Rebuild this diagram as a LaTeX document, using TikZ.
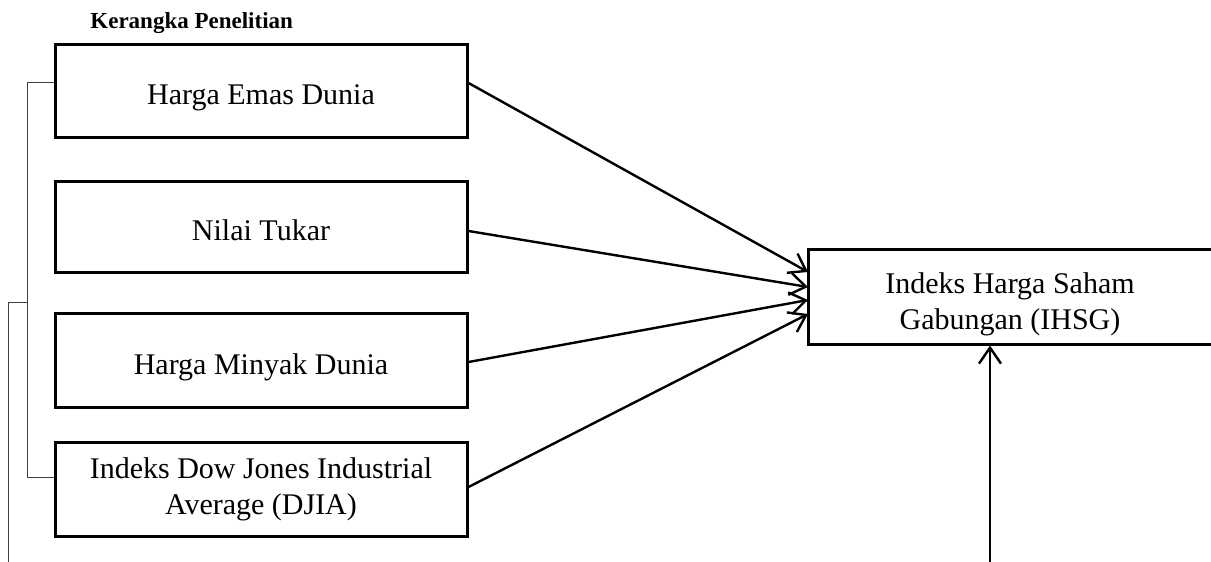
\documentclass[tikz,border=0pt]{standalone}
\usepackage{fontspec}
\setmainfont{Liberation Serif}
\usetikzlibrary{arrows.meta}

\begin{document}
\begin{tikzpicture}[x=0.5pt, y=-0.5pt,
        kotak/.style={draw, line width=1.5pt, inner sep=0pt, align=center,
            minimum width=206pt, font=\fontsize{15}{18}\selectfont},
        satu/.style={text height=17.5pt, text depth=3.5pt},
        panah/.style={line width=1.2pt, -{Straight Barb[length=8pt,width=11pt]}},
        kurung/.style={line width=0.5pt, black!75}]
        \useasboundingbox (0,0) rectangle (1211,562);
        \node [anchor=base west, inner sep=0pt, font=\fontsize{11.5}{13}\selectfont\bfseries] (judul) at (90,28) {Kerangka Penelitian};
        % variabel bebas
        \node [kotak, satu, minimum height=46.5pt] (emas) at (261,90.5) {Harga Emas Dunia};
        \node [kotak, satu, minimum height=45.5pt] (tukar) at (261,226.5) {Nilai Tukar};
        \node [kotak, satu, minimum height=47pt] (minyak) at (261,360) {Harga Minyak Dunia};
        \node [kotak, minimum height=47pt] (djia) at (261,489) {Indeks Dow Jones Industrial\\Average (DJIA)};
        % variabel terikat
        \node [kotak, text height=36pt, minimum width=202pt, minimum height=47.5pt] (ihsg) at (1010,296.5) {Indeks Harga Saham\\Gabungan (IHSG)};
        \coordinate (t1) at (808,272);
        \coordinate (t2) at (808,287);
        \coordinate (t3) at (808,300);
        \coordinate (t4) at (808,314);
        \coordinate (bawah) at (990,562);
        \draw [panah] ([yshift=3.75pt]emas.east) -- (t1);
        \draw [panah] ([yshift=-2.25pt]tukar.east) -- (t2);
        \draw [panah] ([yshift=-1pt]minyak.east) -- (t3);
        \draw [panah] ([yshift=1pt]djia.east) -- (t4);
        \draw [panah] (bawah) -- (bawah |- ihsg.south);
        % kurung kiri
        \coordinate (k1) at (27,82);
        \coordinate (k2) at (27,477);
        \coordinate (k3) at (8,302);
        \coordinate (k4) at (8,562);
        \draw [kurung] (k1 -| emas.west) -- (k1) -- (k2) -- (k2 -| djia.west);
        \draw [kurung] (27,302) -- (k3) -- (k4);
    \end{tikzpicture}
\end{document}
